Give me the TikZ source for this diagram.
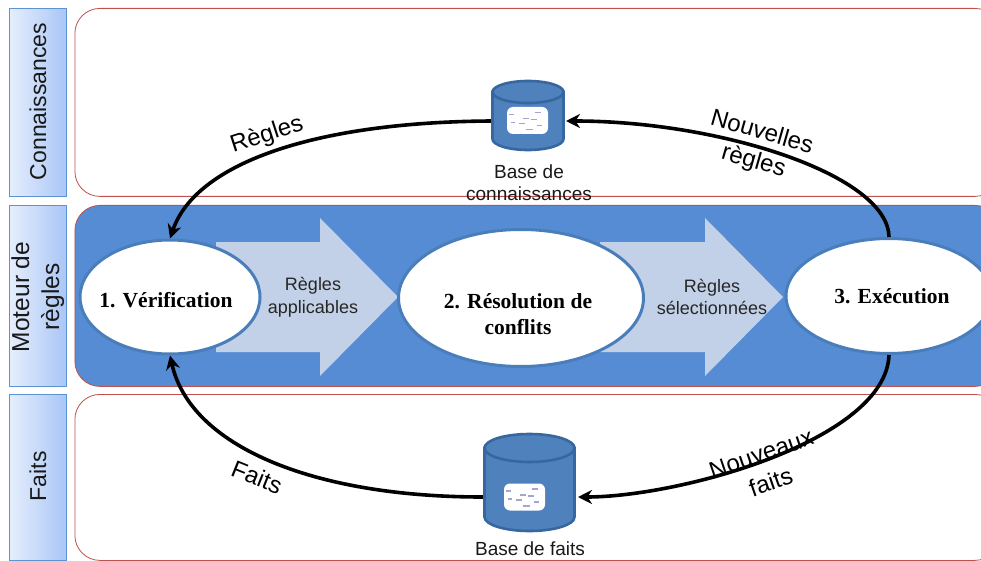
\documentclass[tikz,border=0pt]{standalone}
\usepackage{fontspec}
\setmainfont{Liberation Sans}
\newfontfamily\serifbold{Liberation Serif}[BoldFont={Liberation Serif Bold}]
\usetikzlibrary{shapes.geometric,arrows.meta,shadings}
\definecolor{bandblue}{HTML}{558CD4}
\definecolor{bandred}{HTML}{C0504D}
\definecolor{barline}{HTML}{5B94D0}
\definecolor{barleft}{HTML}{E6EEFD}
\definecolor{barright}{HTML}{A9C6F6}
\definecolor{dbfill}{HTML}{4F81BD}
\definecolor{dbline}{HTML}{37679F}
\definecolor{ellline}{HTML}{4A7EBB}
\definecolor{blockarrow}{HTML}{C3D1E8}
\definecolor{smudge}{HTML}{A5A5D5}
\tikzset{
  x=1pt,y=-1pt,
  sidebar/.style={draw=barline,line width=0.8pt,left color=barleft,right color=barright,minimum width=57pt,inner sep=0pt,anchor=north west},
  lane/.style={draw=bandred,line width=0.8pt,rounded corners=25pt,minimum width=925pt,inner sep=0pt,anchor=north west},
  sidetext/.style={rotate=90,font=\fontsize{23}{25}\selectfont,align=center,text=black!90},
  rule/.style={ellipse,draw=ellline,line width=3pt,fill=white,inner sep=0pt},
  ruletext/.style={align=center,font=\serifbold\bfseries\fontsize{21.5}{26}\selectfont},
  db/.style={draw=dbline,line width=2.6pt,fill=dbfill},
  smudgebox/.style={fill=white,rounded corners=6pt,minimum width=41pt,minimum height=27pt,inner sep=0pt},
  caption/.style={font=\fontsize{19}{22}\selectfont,align=center,text=black!90},
  small/.style={font=\fontsize{18}{22.5}\selectfont,align=center,text=black!85},
  curved/.style={font=\fontsize{24}{30}\selectfont,align=center},
  flow/.style={line width=3.6pt,-{Stealth[length=14pt,width=14pt]}},
  blockbody/.style={fill=blockarrow},
}
\newcommand{\dbdraw}[5]{% cx, top, rx, ry, bottom
  \path[db] (#1-#3,#2+#4) -- (#1-#3,#5-#4) arc[start angle=180,end angle=0,x radius=#3,y radius=#4]
     -- (#1+#3,#2+#4) -- cycle;
  \path[db] (#1,#2+#4) ellipse[x radius=#3,y radius=#4];
}
\newcommand{\smudges}[2]{%
  \begin{scope}[shift={(#1,#2)},smudge,line width=1.1pt]
    \draw (-19,-6) -- (-14,-6) (-5,-2)--(1,-2) (7,-8)--(13,-8);
    \draw (-9,3)--(-3,3) (3,-1)--(9,-1) (-2,9)--(5,9) (9,5)--(14,5) (-17,2)--(-13,2);
  \end{scope}
}
\begin{document}
\begin{tikzpicture}
\useasboundingbox (0,0) rectangle (981,561);
\begin{scope}
\clip (0,0) rectangle (981,561);
\fill[white] (0,0) rectangle (981,561);
% side bars
\node[sidebar,minimum height=188pt] (barK) at (9,8) {};
\node[sidebar,minimum height=181pt] (barM) at (9,205) {};
\node[sidebar,minimum height=166pt] (barF) at (9,394) {};
\node[sidetext] (txtK) at (barK.center) [xshift=1pt] {Connaissances};
\node[sidetext,font=\fontsize{24.5}{30}\selectfont] (txtM) at (barM.center) [xshift=-1pt] {Moteur de\\règles};
\node[sidetext] (txtF) at (barF.center) [xshift=1pt] {Faits};
% lanes
\node[lane,minimum height=188pt] (laneK) at (74.5,8) {};
\node[lane,minimum height=181pt,fill=bandblue] (laneM) at (74.5,205) {};
\node[lane,minimum height=166pt] (laneF) at (74.5,394) {};
% block arrows
\path[blockbody] (216,242) -- (320,242) -- (320,218) -- (398,297) -- (320,376) -- (320,352) -- (216,352) -- cycle;
\path[blockbody] (600,242) -- (705,242) -- (705,218) -- (783,297) -- (705,376) -- (705,352) -- (600,352) -- cycle;
\node[small] (applic) at (313,297) {Règles\\applicables};
\node[small] (select) at (712,297) {Règles\\sélectionnées};
% rule ellipses
\node[rule,minimum width=180pt,minimum height=114pt] (e1) at (170,297) {};
\node[rule,minimum width=245pt,minimum height=137pt] (e2) at (521,298) {};
\node[rule,minimum width=206pt,minimum height=115pt] (e3) at (889,296) {};
\node[ruletext] (t1) at (166,300) {1. Vérification};
\node[ruletext] (t2) at (518,314) {2. Résolution de\\conflits};
\node[ruletext] (t3) at (892,296) {3. Exécution};
% databases
\coordinate (d1w) at (492,121);
\coordinate (d1e) at (566,121);
\coordinate (d2w) at (483,497);
\coordinate (d2e) at (578,497);
\draw[flow] (d1w) .. controls (310,122) and (195,165) .. (e1.north);
\draw[flow] (e3.north) .. controls (888,175) and (720,121) .. (d1e);
\draw[flow] (e3.south) .. controls (886,440) and (680,497) .. (d2e);
\draw[flow] (d2w) .. controls (310,497) and (190,445) .. (e1.south);
\dbdraw{528}{81}{35.5}{11}{150}
\node[smudgebox] (s1) at (527.5,120.5) {};
\smudges{527.5}{120.5}
\dbdraw{529.5}{434}{45}{14}{531}
\node[smudgebox] (s2) at (524.5,497) {};
\smudges{524.5}{497}
\node[caption] (capK) at (529,183) {Base de\\connaissances};
\node[caption] (capF) at (530,549) {Base de faits};
\node[curved,rotate=18] (lr) at (267,135) {Règles};
\node[curved,rotate=-16] (lnr) at (757.5,147.5) {Nouvelles\\règles};
\node[curved,rotate=-22] (lf) at (257,477) {Faits};
\node[curved,rotate=19] (lnf) at (766,468) {Nouveaux\\faits};
\end{scope}
\end{tikzpicture}
\end{document}
